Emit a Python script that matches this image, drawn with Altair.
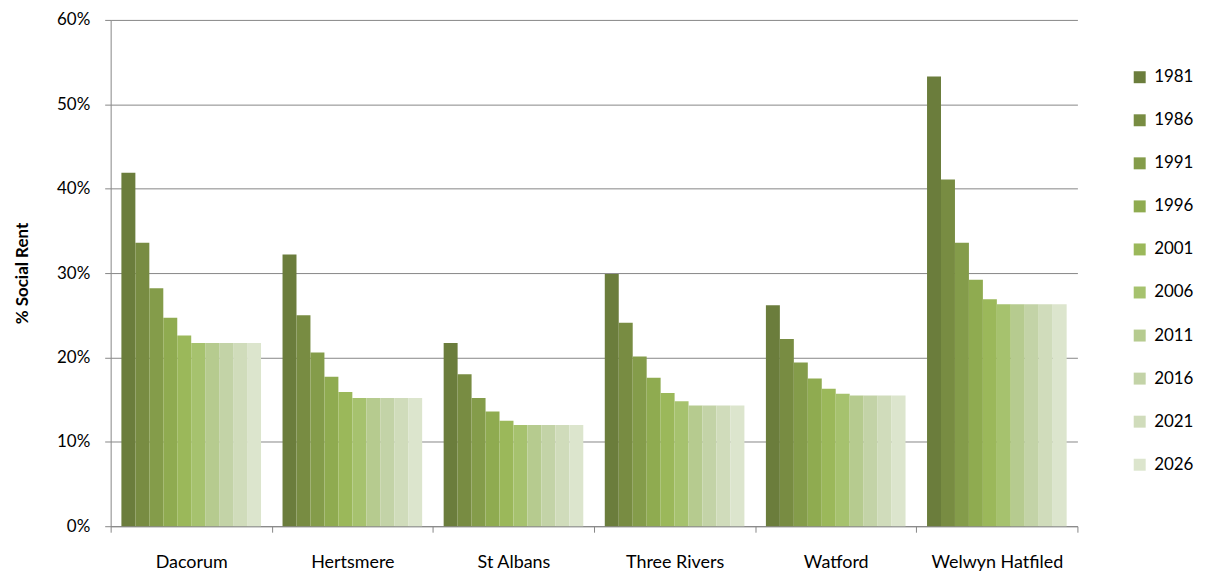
import altair as alt
import pandas as pd

districts = ["Dacorum", "Hertsmere", "St Albans", "Three Rivers", "Watford", "Welwyn Hatfiled"]
years = ["1981", "1986", "1991", "1996", "2001", "2006", "2011", "2016", "2021", "2026"]

dacorum = [41.9, 33.6, 28.2, 24.7, 22.6, 21.7, 21.7, 21.7, 21.7, 21.7]
hertsmere = [32.2, 25.0, 20.6, 17.7, 15.9, 15.2, 15.2, 15.2, 15.2, 15.2]
st_albans = [21.7, 18.0, 15.2, 13.6, 12.5, 12.0, 12.0, 12.0, 12.0, 12.0]
three_rivers = [29.9, 24.1, 20.1, 17.6, 15.8, 14.8, 14.3, 14.3, 14.3, 14.3]
watford = [26.2, 22.2, 19.4, 17.5, 16.3, 15.7, 15.5, 15.5, 15.5, 15.5]
welwyn_hatfield = [53.3, 41.1, 33.6, 29.2, 26.9, 26.3, 26.3, 26.3, 26.3, 26.3]

colors = ["#6b7d3c", "#788c42", "#849c4a", "#8fab50", "#9bb85a",
          "#a6c26e", "#b6cb8f", "#c3d3a7", "#d0dcbb", "#dce5cd"]

series = [dacorum, hertsmere, st_albans, three_rivers, watford, welwyn_hatfield]
rows = []
for d, vals in zip(districts, series):
    for yr, v in zip(years, vals):
        rows.append({"district": d, "year": yr, "value": v / 100})
df = pd.DataFrame(rows)

FONT = "Lato"
GRID = "#878787"

chart = alt.Chart(df).mark_bar().encode(
    x=alt.X("district:N", sort=districts, title=None,
            scale=alt.Scale(paddingInner=0, paddingOuter=0),
            axis=alt.Axis(tickBand="extent", labelFont=FONT, labelFontSize=18,
                          labelColor="#000000", domainColor=GRID, tickColor=GRID,
                          tickSize=6, labelPadding=21, grid=False, labelAngle=0)),
    xOffset=alt.XOffset("year:N", sort=years,
                        scale=alt.Scale(paddingOuter=0.77, paddingInner=0)),
    y=alt.Y("value:Q", scale=alt.Scale(domain=[0, 0.6]),
            axis=alt.Axis(format=".0%", values=[0, 0.1, 0.2, 0.3, 0.4, 0.5, 0.6],
                          title="% Social Rent", titleFont=FONT, titleFontSize=17,
                          titleFontWeight="bold", titleColor="#000000", titlePadding=25,
                          labelFont=FONT, labelFontSize=17, labelColor="#000000",
                          labelPadding=15, tickSize=6, tickColor=GRID, domainColor=GRID,
                          gridColor=GRID, gridWidth=1)),
    color=alt.Color("year:N", sort=years,
                    scale=alt.Scale(domain=years, range=colors),
                    legend=alt.Legend(title=None, orient="none", legendX=1024, legendY=49,
                                      symbolType="square", symbolSize=144,
                                      symbolStrokeWidth=0, labelFont=FONT,
                                      labelFontSize=17, labelColor="#000000",
                                      rowPadding=25.2, labelOffset=6)),
).properties(
    width=970, height=508,
    padding={"left": 5, "top": 2, "right": 5, "bottom": 5},
).configure_view(stroke=None)

chart.save("out.html", embed_options={"renderer": "svg", "actions": False})
